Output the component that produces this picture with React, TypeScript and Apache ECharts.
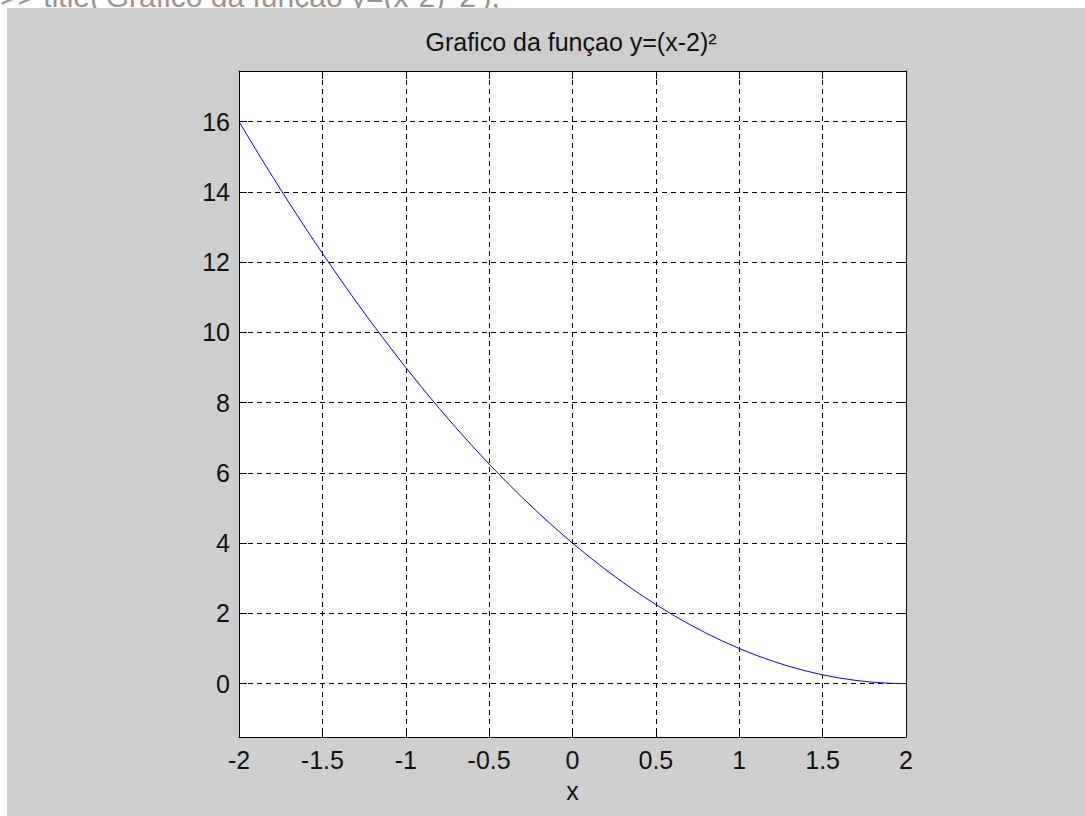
import React, { useEffect, useRef } from "react";
import * as echarts from "echarts";

const xValues = [-2, -1.9, -1.8, -1.7, -1.6, -1.5, -1.4, -1.3, -1.2, -1.1, -1, -0.9, -0.8, -0.7, -0.6, -0.5, -0.4, -0.3, -0.2, -0.1, 0, 0.1, 0.2, 0.3, 0.4, 0.5, 0.6, 0.7, 0.8, 0.9, 1, 1.1, 1.2, 1.3, 1.4, 1.5, 1.6, 1.7, 1.8, 1.9, 2];
const yValues = [16, 15.21, 14.44, 13.69, 12.96, 12.25, 11.56, 10.89, 10.24, 9.61, 9, 8.41, 7.84, 7.29, 6.76, 6.25, 5.76, 5.29, 4.84, 4.41, 4, 3.61, 3.24, 2.89, 2.56, 2.25, 1.96, 1.69, 1.44, 1.21, 1, 0.81, 0.64, 0.49, 0.36, 0.25, 0.16, 0.09, 0.04, 0.01, 0];
const xTicks = [-2, -1.5, -1, -0.5, 0, 0.5, 1, 1.5, 2];
const yTicks = [0, 2, 4, 6, 8, 10, 12, 14, 16];
const titleText = "Grafico da funçao y=(x-2)²";
const commandText = ">> title('Grafico da função y=(x-2)^2');";
const xName = "x";

export default function App() {
  const ref = useRef<HTMLDivElement>(null);
  useEffect(() => {
    if (!ref.current) return;
    const chart = echarts.init(ref.current, null, { renderer: "svg" });
    const font = "Liberation Sans";
    const gridLine = { show: true, lineStyle: { color: "#000", width: 1, type: [5, 4] } };
    const tick = (vals: number[]) => ({ show: true, inside: true, length: 8, lineStyle: { color: "#000", width: 1 }, customValues: vals });
    const axisLine = { show: true, onZero: false, lineStyle: { color: "#000", width: 1 } };
    chart.setOption({
      animation: false,
      backgroundColor: "#ffffff",
      textStyle: { fontFamily: font },
      graphic: [
        {
          type: "text",
          x: 0,
          y: -4,
          z: -3,
          style: { text: commandText, font: `30px ${font}`, fill: "#a0908c", textAlign: "left", textVerticalAlign: "middle" },
        },
        {
          type: "rect",
          z: -2,
          shape: { x: 7, y: 8, width: 1085, height: 816 },
          style: { fill: "#cecece" },
        },
        {
          type: "text",
          x: 571,
          y: 42,
          style: { text: titleText, font: `25px ${font}`, fill: "#111", textAlign: "center", textVerticalAlign: "middle" },
        },
      ],
      grid: {
        left: 239,
        top: 71,
        right: 179,
        bottom: 79,
        show: true,
        backgroundColor: "#ffffff",
        borderWidth: 0,
        containLabel: false,
      },
      xAxis: [
        {
          type: "value",
          position: "bottom",
          min: -2,
          max: 2,
          interval: 0.5,
          axisLine,
          axisTick: tick(xTicks),
          splitLine: gridLine,
          axisLabel: { customValues: xTicks, fontSize: 25, color: "#111", margin: 10, fontFamily: font },
          name: xName,
          nameLocation: "middle",
          nameGap: 41,
          nameTextStyle: { fontSize: 25, color: "#111", fontFamily: font },
        },
        {
          type: "value",
          position: "top",
          min: -2,
          max: 2,
          interval: 0.5,
          axisLine,
          axisTick: tick(xTicks),
          splitLine: { show: false },
          axisLabel: { show: false },
        },
      ],
      yAxis: [
        {
          type: "value",
          position: "left",
          min: -1.52,
          max: 17.44,
          axisLine,
          axisTick: tick(yTicks),
          splitLine: gridLine,
          axisLabel: { customValues: yTicks, fontSize: 25, color: "#111", margin: 9, fontFamily: font },
        },
        {
          type: "value",
          position: "right",
          min: -1.52,
          max: 17.44,
          axisLine,
          axisTick: tick(yTicks),
          splitLine: { show: false },
          axisLabel: { show: false },
        },
      ],
      series: [
        {
          type: "line",
          data: xValues.map((x, i) => [x, yValues[i]]),
          showSymbol: false,
          symbol: "none",
          lineStyle: { color: "#0000ff", width: 1 },
          z: 3,
        },
      ],
    });
    return () => chart.dispose();
  }, []);
  return <div ref={ref} style={{ position: "fixed", left: 0, top: 0, width: 1085, height: 816 }} />;
}
